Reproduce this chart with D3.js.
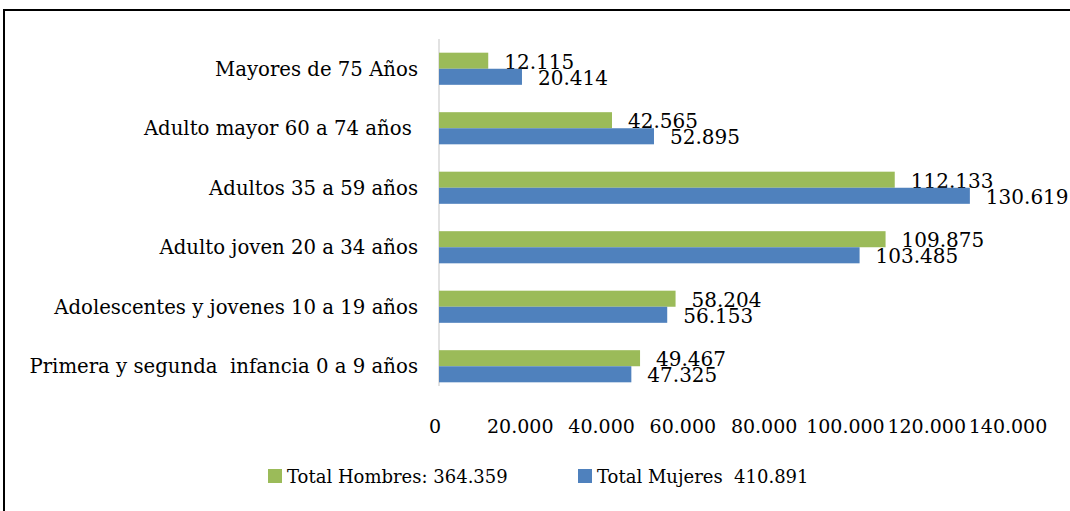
<!DOCTYPE html>
<html><head><meta charset="utf-8">
<script src="https://cdn.jsdelivr.net/npm/d3@7"></script>
<style>body{margin:0;background:#fff}svg{display:block}text{font-family:"DejaVu Serif",serif;fill:#000}</style>
</head><body>
<script>
const categories = ["Mayores de 75 Años","Adulto mayor 60 a 74 años ","Adultos 35 a 59 años","Adulto joven 20 a 34 años","Adolescentes y jovenes 10 a 19 años","Primera y segunda  infancia 0 a 9 años"];
const hombres = [12115, 42565, 112133, 109875, 58204, 49467];
const mujeres = [20414, 52895, 130619, 103485, 56153, 47325];
const tickValues = [0,20000,40000,60000,80000,100000,120000,140000];
const seriesNames = ["Total Hombres: 364.359","Total Mujeres  410.891"];
const colors = ["#9BBB59","#4F81BD"];

const W=1070,H=511;
const svg=d3.select("body").append("svg").attr("width",W).attr("height",H);
svg.append("rect").attr("x",4).attr("y",10).attr("width",W+10).attr("height",H+10).attr("fill","#fff").attr("stroke","#000").attr("stroke-width",2);

const fmt=v=>v===0?"0":d3.format(",")(v).replace(/,/g,".");
const x=d3.scaleLinear().domain([0,140000]).range([439,1008]);
const y=d3.scaleBand().domain(categories).range([39,396]).paddingInner(0.46).paddingOuter(0.23);
const sub=d3.scaleBand().domain([0,1]).range([0,y.bandwidth()]);

svg.append("line").attr("x1",x(0)).attr("x2",x(0)).attr("y1",39).attr("y2",386).attr("stroke","#d9d9d9").attr("stroke-width",1.5);

const series=[hombres,mujeres];
series.forEach((vals,si)=>{
  const g=svg.append("g");
  g.selectAll("rect").data(categories).join("rect")
    .attr("x",x(0)).attr("y",(d)=>y(d)+sub(si))
    .attr("width",(d,i)=>x(vals[i])-x(0)).attr("height",sub.bandwidth())
    .attr("fill",colors[si]);
  g.selectAll("text").data(categories).join("text")
    .attr("x",(d,i)=>x(vals[i])+16).attr("y",(d)=>y(d)+sub(si)+sub.bandwidth()/2+8)
    .attr("font-size",20).text((d,i)=>fmt(vals[i]));
});

svg.append("g").selectAll("text").data(categories).join("text")
  .attr("x",418).attr("y",d=>y(d)+y.bandwidth()/2+7).attr("text-anchor","end")
  .attr("font-size",19.7).attr("xml:space","preserve").style("white-space","pre").text(d=>d);

svg.append("g").selectAll("text").data(tickValues).join("text")
  .attr("x",d=>x(d)-(d===0?4:0)).attr("y",433).attr("text-anchor","middle")
  .attr("font-size",19).text(fmt);

const leg=[{x:268},{x:578}];
leg.forEach((l,i)=>{
  svg.append("rect").attr("x",l.x).attr("y",469).attr("width",14).attr("height",14).attr("fill",colors[i]);
  svg.append("text").attr("x",l.x+19).attr("y",483).attr("font-size",18).attr("xml:space","preserve").style("white-space","pre").text(seriesNames[i]);
});
</script>
</body></html>
